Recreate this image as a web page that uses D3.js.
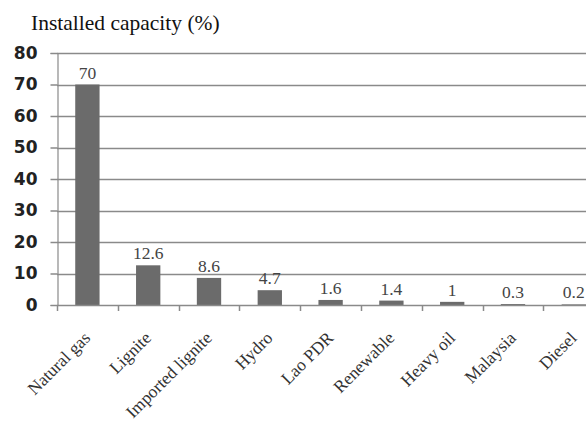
<!DOCTYPE html>
<html>
<head>
<meta charset="utf-8">
<script src="https://cdn.jsdelivr.net/npm/d3@7"></script>
<style>
  html, body { margin: 0; padding: 0; background: #fff; overflow: hidden; }
  svg { display: block; }
</style>
</head>
<body>
<svg id="chart" width="586" height="423"></svg>
<script>
// Installed capacity share by fuel type (%)
const categories = ["Natural gas", "Lignite", "Imported lignite", "Hydro", "Lao PDR",
                    "Renewable", "Heavy oil", "Malaysia", "Diesel"];
const values = [70, 12.6, 8.6, 4.7, 1.6, 1.4, 1, 0.3, 0.2];
const valueLabels = ["70", "12.6", "8.6", "4.7", "1.6", "1.4", "1", "0.3", "0.2"];
const yTicks = [0, 10, 20, 30, 40, 50, 60, 70, 80];
const title = "Installed capacity (%)";

const svg = d3.select("#chart");
const plotLeft = 57, plotTop = 53, plotBottom = 305;
const bandW = 60.8;
const plotRight = plotLeft + bandW * categories.length;

const x = d3.scaleBand().domain(categories).range([plotLeft, plotRight]).paddingInner(0.6).paddingOuter(0.3);
const y = d3.scaleLinear().domain([0, 80]).range([plotBottom, plotTop]);

const grid = "#8a8a8a";

// horizontal gridlines
svg.append("g").selectAll("line").data(yTicks.filter(d => d > 0)).join("line")
  .attr("x1", plotLeft).attr("x2", 586)
  .attr("y1", d => Math.round(y(d)) + 0.5).attr("y2", d => Math.round(y(d)) + 0.5)
  .attr("stroke", grid).attr("stroke-width", 1.5);

// y axis
const yAxis = svg.append("g").attr("transform", `translate(${plotLeft + 0.5},0)`)
  .call(d3.axisLeft(y).tickValues(yTicks).tickSize(7).tickPadding(13));
yAxis.select(".domain").attr("stroke", grid).attr("stroke-width", 1.2);
yAxis.selectAll(".tick line").attr("stroke", grid).attr("stroke-width", 1.5);
yAxis.selectAll(".tick text")
  .attr("font-family", "'DejaVu Sans', sans-serif").attr("font-size", 17)
  .attr("font-weight", "bold").attr("fill", "#222");

// bars
svg.append("g").selectAll("rect").data(values).join("rect")
  .attr("x", (d, i) => x(categories[i]))
  .attr("width", x.bandwidth())
  .attr("y", d => y(d))
  .attr("height", d => y(0) - y(d))
  .attr("fill", "#6b6b6b");

// x axis with ticks at band boundaries
const xBound = d3.scaleLinear().domain([0, categories.length]).range([plotLeft, plotRight]);
svg.append("line").attr("x1", plotLeft).attr("x2", 586)
  .attr("y1", plotBottom + 0.5).attr("y2", plotBottom + 0.5)
  .attr("stroke", grid).attr("stroke-width", 1.5);
svg.append("g").selectAll("line").data(d3.range(categories.length + 1)).join("line")
  .attr("x1", d => Math.round(xBound(d)) + 0.5).attr("x2", d => Math.round(xBound(d)) + 0.5)
  .attr("y1", plotBottom).attr("y2", plotBottom + 6)
  .attr("stroke", grid).attr("stroke-width", 1.5);

// value labels
svg.append("g").selectAll("text").data(values).join("text")
  .attr("x", (d, i) => x(categories[i]) + x.bandwidth() / 2)
  .attr("y", d => y(d) - 6)
  .attr("text-anchor", "middle")
  .attr("font-family", "'Liberation Serif', serif").attr("font-size", 17.5)
  .attr("fill", "#444")
  .text((d, i) => valueLabels[i]);

// category labels, rotated
svg.append("g").selectAll("text").data(categories).join("text")
  .attr("transform", d => `translate(${x(d) + x.bandwidth() / 2 + 4},${plotBottom + 34}) rotate(-45)`)
  .attr("text-anchor", "end")
  .attr("font-family", "'Liberation Serif', serif").attr("font-size", 17.5)
  .attr("fill", "#333")
  .text(d => d);

// title
svg.append("text").attr("x", 31).attr("y", 29.5)
  .attr("font-family", "'Liberation Serif', serif").attr("font-size", 21.5)
  .attr("fill", "#111")
  .text(title);
</script>
</body>
</html>
